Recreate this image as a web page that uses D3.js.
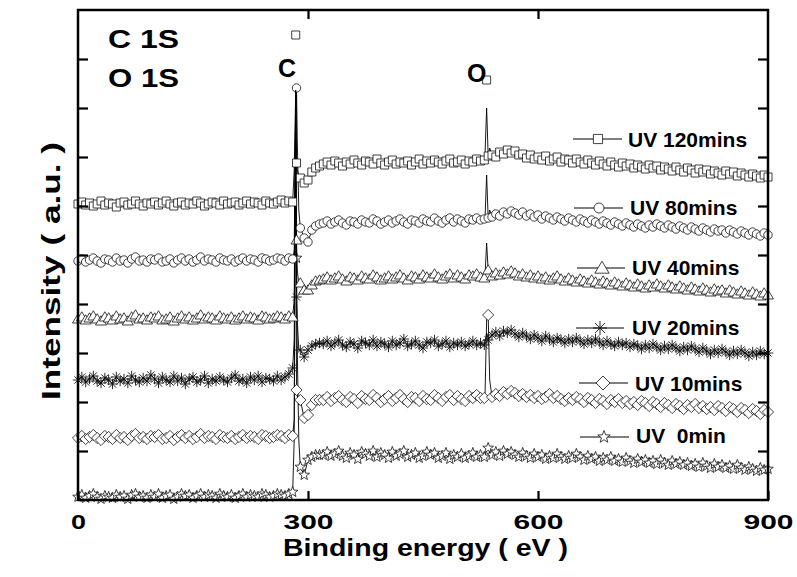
<!DOCTYPE html>
<html><head><meta charset="utf-8">
<script src="https://cdn.jsdelivr.net/npm/d3@7"></script>
<style>
html,body{margin:0;padding:0;background:#fff;}
svg{display:block;}
text{font-family:"Liberation Sans",Arial,Helvetica,sans-serif;font-weight:bold;fill:#000;}
</style></head><body>
<svg id="chart" width="797" height="577"></svg>
<script>
// ---------------- DATA ----------------
// binding energy grid (eV), one symbol per grid point
const energyGrid = d3.range(0, 901, 5);
// extra (symbol-less) points that trace the narrow C 1s and O 1s spikes
const peakEnergies = [282, 284, 286, 288, 531, 533, 537];
const xTickValues = [0, 300, 600, 900];
const yTickValues = [49, 98, 147, 196, 245, 294, 343, 392, 441];

const uv120mins = [
296,298,295,297,294,296,299,295,297,296,293,297,298,295,296,299,296,294,297,296,
298,295,297,299,296,294,297,298,295,297,296,299,297,294,296,298,297,295,299,296,
297,298,295,297,299,296,298,297,295,299,297,296,298,300,297,299,298,
337,
322,317,320,328,332,334,
336,338,335,339,337,334,338,336,340,337,335,339,338,336,341,337,335,338,340,336,
338,337,339,335,338,341,336,339,337,340,338,336,339,341,337,338,340,336,339,338,
341,339,
340,344,
345,343,348,346,350,347,349,345,346,342,345,341,343,340,344,339,341,343,338,341,
340,337,341,338,336,340,337,335,339,336,334,338,335,333,337,334,336,332,335,333,
331,335,332,334,330,333,331,329,333,330,328,332,330,327,331,328,330,326,329,327,
325,329,326,328,324,327,325,323,326,324,322,325,323];
const uv120minsPeaks = [330, 410, 330, 324, 348, 392, 352];
const uv120minsApex = [[284, 465], [533, 420]];

const uv80mins = [
239,241,238,240,242,239,237,241,240,238,242,239,240,237,241,243,239,240,238,241,
240,242,238,239,241,237,240,242,239,241,238,240,243,239,241,240,238,242,240,239,
241,238,240,242,239,241,240,238,242,241,239,240,242,241,239,242,241,
412,
272,262,258,270,274,276,
277,279,276,278,280,277,275,279,278,276,280,278,277,281,279,276,278,280,277,279,
281,278,276,280,279,277,281,279,278,282,279,277,280,282,278,281,279,277,281,280,
282,280,
281,282,
283,286,284,288,286,289,287,285,288,284,286,283,285,281,284,282,280,283,281,279,
282,280,278,281,279,277,280,278,276,279,277,275,278,276,274,277,275,273,276,274,
272,275,273,276,274,272,275,273,271,274,272,270,273,271,269,272,270,268,271,269,
270,267,270,268,266,269,267,265,268,266,264,267,265];
const uv80minsPeaks = [250, 400, 360, 290, 284, 325, 290];

const uv40mins = [
181,183,180,182,184,181,179,183,182,180,184,181,182,179,183,185,181,182,180,183,
182,184,180,181,183,179,182,184,181,183,180,182,185,181,183,182,180,184,182,181,
183,180,182,184,181,183,182,180,184,183,181,182,184,183,181,184,183,
260,
217,210,210,215,219,220,
221,223,220,222,224,221,219,223,222,220,224,222,221,225,223,220,222,224,221,223,
225,222,220,224,223,221,225,223,222,226,223,221,224,226,222,225,223,221,225,224,
226,223,
222,230,
224,227,225,228,226,229,227,224,226,223,225,222,224,221,223,220,222,224,221,219,
222,220,218,221,219,217,220,218,216,219,217,215,218,216,214,217,215,213,216,214,
212,215,213,216,214,212,215,213,211,214,212,210,213,211,209,212,210,208,211,209,
210,207,210,208,206,209,207,205,208,206,204,207,205];
const uv40minsPeaks = [200, 405, 230, 215, 226, 257, 226];

const uv20mins = [
120,123,118,121,124,119,117,122,120,116,123,119,121,117,124,120,118,122,119,125,
121,117,123,120,118,124,119,122,116,121,123,118,120,124,117,121,119,123,120,118,
122,125,119,121,117,123,120,124,118,122,121,119,124,120,123,126,132,
203,
150,143,150,154,156,157,
156,159,154,157,160,155,153,158,156,152,159,157,155,160,154,158,156,153,159,155,
157,161,154,156,159,155,152,158,157,160,154,156,159,153,157,155,158,154,156,159,
155,157,
155,160,
165,168,164,169,167,170,166,163,167,164,161,165,162,159,164,161,158,162,160,157,
161,158,162,159,156,160,157,161,158,155,159,156,154,158,155,157,153,156,154,151,
155,152,156,153,150,154,151,155,152,149,153,150,154,151,148,152,149,146,150,147,
151,148,145,149,146,150,147,144,148,145,149,146,147];
const uv20minsPeaks = [160, 405, 180, 150, 158, 167, 163];

const uv10mins = [
62,64,61,63,65,62,60,64,63,61,65,62,63,60,64,66,62,63,61,64,
63,65,61,62,64,60,63,65,62,64,61,63,66,62,64,63,61,65,63,62,
64,61,63,65,62,64,63,61,65,64,62,63,65,64,62,65,64,
110,
100,82,85,95,100,100,
100,103,99,102,104,100,98,103,101,97,104,101,100,105,102,98,101,104,99,102,
105,101,98,103,102,99,104,101,100,105,102,99,103,105,100,104,101,99,104,102,
105,102,
102,185,
103,106,104,108,106,109,107,104,106,103,105,102,104,101,103,106,102,104,101,99,
102,100,103,101,98,102,100,97,101,99,96,100,98,101,97,99,96,98,95,99,
97,94,98,96,93,97,95,92,96,94,91,95,93,96,92,94,91,93,90,94,
92,89,93,91,88,92,90,87,91,89,86,90,88];
const uv10minsPeaks = [80, 405, 105, 95, 108, 180, 120];

const uv0min = [
3,5,2,4,6,3,1,4,3,2,5,3,4,1,5,6,3,4,2,5,
3,6,2,4,5,1,3,6,4,5,2,4,6,3,5,4,2,6,4,3,
5,2,4,6,3,5,4,3,6,5,3,4,6,5,4,6,8,
242,
33,25,40,43,45,45,
45,48,44,46,49,44,42,47,45,41,48,46,44,49,43,47,45,42,48,44,
46,49,43,45,47,42,44,48,45,47,42,44,47,41,45,43,46,42,44,47,
43,45,
43,52,
45,48,44,49,46,48,45,43,47,44,42,46,43,45,41,44,42,46,43,41,
44,42,46,43,40,44,41,43,39,42,40,43,39,41,38,42,39,37,41,38,
40,37,39,36,40,37,35,39,36,38,35,37,34,36,33,37,34,32,36,33,
35,32,34,31,35,32,30,33,31,29,32,30,31];
const uv0minPeaks = [60, 405, 150, 60, 45, 50, 47];

const seriesLabels = ["UV 120mins", "UV 80mins", "UV 40mins", "UV 20mins", "UV 10mins", "UV  0min"];
const annotations = ["C 1S", "O 1S"];

// ---------------- SERIES TABLE ----------------
const series = [
  {label: seriesLabels[5], shape: "star",     grid: uv0min,    peaks: uv0minPeaks},
  {label: seriesLabels[4], shape: "diamond",  grid: uv10mins,  peaks: uv10minsPeaks},
  {label: seriesLabels[3], shape: "asterisk", grid: uv20mins,  peaks: uv20minsPeaks},
  {label: seriesLabels[2], shape: "triangle", grid: uv40mins,  peaks: uv40minsPeaks},
  {label: seriesLabels[1], shape: "circle",   grid: uv80mins,  peaks: uv80minsPeaks},
  {label: seriesLabels[0], shape: "square",   grid: uv120mins, peaks: uv120minsPeaks, apex: uv120minsApex}
];

// ---------------- LAYOUT ----------------
const W = 797, H = 577;
const M = {left: 78, right: 768, top: 10, bottom: 500};
const svg = d3.select("#chart");
svg.append("rect").attr("width", W).attr("height", H).attr("fill", "#fff");

const x = d3.scaleLinear().domain([0, 900]).range([M.left, M.right]);
const y = d3.scaleLinear().domain([0, 490]).range([M.bottom, M.top]);

const shapes = {
  square: r => `M${-r},${-r}h${2*r}v${2*r}h${-2*r}Z`,
  circle: r => `M${r},0A${r},${r} 0 1,1 ${-r},0A${r},${r} 0 1,1 ${r},0Z`,
  triangle: r => `M0,${-r*1.05}L${r*1.1},${r*0.8}L${-r*1.1},${r*0.8}Z`,
  diamond: r => `M0,${-r}L${r},0L0,${r}L${-r},0Z`,
  asterisk: r => { const d = r*0.7071; return `M${-r},0H${r}M0,${-r}V${r}M${-d},${-d}L${d},${d}M${-d},${d}L${d},${-d}`; },
  star: r => {
    let p = "";
    for (let k = 0; k < 10; k++) {
      const a = -Math.PI/2 + k*Math.PI/5, rr = k % 2 ? r*0.42 : r;
      p += (k ? "L" : "M") + (rr*Math.cos(a)).toFixed(2) + "," + (rr*Math.sin(a)).toFixed(2);
    }
    return p + "Z";
  }
};
const dataR = {square: 4, circle: 4.2, triangle: 5, diamond: 5.6, asterisk: 5.2, star: 5.6};
const legR  = {square: 4.6, circle: 5, triangle: 6.5, diamond: 7, asterisk: 7, star: 6.5};

function drawSymbol(g, shape, r, cx, cy) {
  return g.append("path")
    .attr("transform", `translate(${cx},${cy})`)
    .attr("d", shapes[shape](r))
    .attr("fill", shape === "asterisk" ? "none" : "#fff")
    .attr("stroke", "#111")
    .attr("stroke-width", shape === "asterisk" ? 0.9 : 0.8);
}

const line = d3.line().x(d => x(d.e)).y(d => y(d.v));
const plot = svg.append("g");

series.forEach(s => {
  const pts = s.grid.map((v, i) => ({e: energyGrid[i], v, sym: true}))
    .concat(s.peaks.map((v, i) => ({e: peakEnergies[i], v, sym: false})))
    .sort((a, b) => a.e - b.e);
  const g = plot.append("g");
  g.append("path").datum(pts).attr("d", line)
    .attr("fill", "none").attr("stroke", "#000").attr("stroke-width", 0.9);
  pts.filter(d => d.sym).forEach(d => drawSymbol(g, s.shape, dataR[s.shape], x(d.e), y(d.v)));
  (s.apex || []).forEach(d => drawSymbol(g, s.shape, dataR[s.shape], x(d[0]), y(d[1])));
});

// ---------------- AXES / FRAME ----------------
svg.append("rect")
  .attr("x", M.left).attr("y", M.top)
  .attr("width", M.right - M.left).attr("height", M.bottom - M.top)
  .attr("fill", "none").attr("stroke", "#000").attr("stroke-width", 2.5);

function styleAxis(g) {
  g.select(".domain").remove();
  g.selectAll(".tick line").attr("stroke", "#000").attr("stroke-width", 2.2);
}
const gx = svg.append("g").attr("transform", `translate(0,${M.bottom})`)
  .call(d3.axisBottom(x).tickValues(xTickValues).tickSizeInner(-9).tickSizeOuter(0).tickFormat(d3.format("d")))
  .call(styleAxis);
gx.selectAll(".tick text")
  .attr("y", 29).attr("dy", null)
  .style("font-size", "21px")
  .attr("textLength", d => d === 0 ? 15 : 50)
  .attr("lengthAdjust", "spacingAndGlyphs");

svg.append("g").attr("transform", `translate(0,${M.top})`)
  .call(d3.axisTop(x).tickValues([300, 600]).tickSizeInner(-9).tickSizeOuter(0).tickFormat(""))
  .call(styleAxis);
svg.append("g").attr("transform", `translate(${M.left},0)`)
  .call(d3.axisLeft(y).tickValues(yTickValues).tickSizeInner(-10).tickSizeOuter(0).tickFormat(""))
  .call(styleAxis);
svg.append("g").attr("transform", `translate(${M.right},0)`)
  .call(d3.axisRight(y).tickValues(yTickValues).tickSizeInner(-10).tickSizeOuter(0).tickFormat(""))
  .call(styleAxis);

// axis titles
svg.append("text").attr("x", 283).attr("y", 556)
  .style("font-size", "24px")
  .attr("textLength", 285).attr("lengthAdjust", "spacingAndGlyphs")
  .text("Binding energy ( eV )");
svg.append("text").attr("transform", "translate(60,271) rotate(-90)")
  .attr("text-anchor", "middle")
  .style("font-size", "25px")
  .attr("textLength", 258).attr("lengthAdjust", "spacingAndGlyphs")
  .text("Intensity ( a.u. )");

// annotations
svg.append("text").attr("x", 108).attr("y", 48).style("font-size", "25px")
  .attr("textLength", 71).attr("lengthAdjust", "spacingAndGlyphs").text(annotations[0]);
svg.append("text").attr("x", 108).attr("y", 87).style("font-size", "25px")
  .attr("textLength", 71).attr("lengthAdjust", "spacingAndGlyphs").text(annotations[1]);
svg.append("text").attr("x", 278).attr("y", 77).style("font-size", "25px").text("C");
svg.append("text").attr("x", 467).attr("y", 82).style("font-size", "25px").text("O");

// legend (top to bottom: 120, 80, 40, 20, 10, 0 min)
const legendRows = [
  {s: series[5], y: 139, x1: 573, x2: 622, mx: 598, tx: 628, ty: 147},
  {s: series[4], y: 208, x1: 574, x2: 623, mx: 599, tx: 630, ty: 215},
  {s: series[3], y: 268, x1: 577, x2: 625, mx: 602, tx: 632, ty: 275},
  {s: series[2], y: 328, x1: 576, x2: 624, mx: 600, tx: 632, ty: 335},
  {s: series[1], y: 383, x1: 579, x2: 628, mx: 603, tx: 635, ty: 391},
  {s: series[0], y: 437, x1: 580, x2: 629, mx: 604, tx: 636, ty: 443}
];
const lg = svg.append("g");
legendRows.forEach(r => {
  lg.append("line").attr("x1", r.x1).attr("x2", r.x2).attr("y1", r.y).attr("y2", r.y)
    .attr("stroke", "#000").attr("stroke-width", 1);
  drawSymbol(lg, r.s.shape, legR[r.s.shape], r.mx, r.y);
  lg.append("text").attr("x", r.tx).attr("y", r.ty)
    .style("font-size", "21px").style("white-space", "pre")
    .text(r.s.label);
});
</script>
</body></html>
